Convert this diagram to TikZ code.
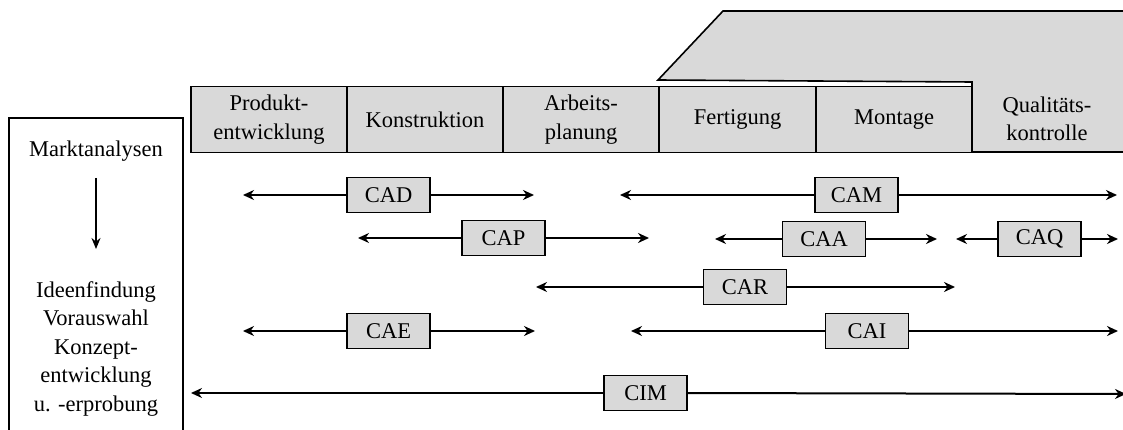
\documentclass[tikz,border=0pt]{standalone}
\usepackage{fontspec}
\setmainfont{Liberation Serif}
\usetikzlibrary{arrows.meta}
\definecolor{boxgray}{HTML}{D9D9D9}
\begin{document}
\begin{tikzpicture}[x=1pt,y=-1pt,
  every node/.style={font=\fontsize{22.5}{28.5}\selectfont},
  phase/.style={draw,line width=1.6pt,fill=boxgray,minimum width=156pt,minimum height=66pt,inner sep=0pt,align=center},
  tool/.style={draw,line width=1.8pt,fill=boxgray,minimum width=83pt,minimum height=35pt,inner sep=0pt},
  span/.style={line width=2pt,-{Stealth[length=11pt,width=10pt]}},
  plain/.style={inner sep=0pt,align=center}]
\useasboundingbox (0,0) rectangle (1123,430);
\clip (0,0) rectangle (1123,430);

% raised block over the manufacturing phases and quality control
\draw[line width=1.6pt,fill=boxgray]
  (658,80) -- (723,11) -- (1130,11) -- (1130,152) -- (972,152) -- (972,82) -- cycle;

% phase boxes
\node[phase] (pe) at (269,119.5) {Produkt-\\entwicklung};
\node[phase] (ko) at (425,119.5) {Konstruktion};
\node[phase] (ap) at (581,119.5) {Arbeits-\\planung};
\node[phase] (fe) at (737.5,119.5) {Fertigung};
\node[phase] (mo) at (894,119.5) {Montage};
\node[plain] (qk) at (1047,119) {Qualitäts-\\kontrolle};

% left column
\draw[line width=1.4pt] (9,440) -- (9,118) -- (183,118) -- (183,440);
\node[plain] (ma) at (96,151) {Marktanalysen};
\node[plain] (id) at (96,349) {Ideenfindung\\Vorauswahl\\Konzept-\\entwicklung\\u. -erprobung};
\draw[line width=2pt,-{Stealth[length=11pt,width=9pt]}] (96,178) -- (96,249);

% CA tools with their reach
\node[tool] (cad) at (388.5,195) {CAD};
\coordinate (cadL) at (243,195); \coordinate (cadR) at (534,195);
\node[tool] (cam) at (856.5,195) {CAM};
\coordinate (camL) at (620,195); \coordinate (camR) at (1117,195);

\node[tool] (cap) at (503.5,238) {CAP};
\coordinate (capL) at (358,238); \coordinate (capR) at (649,238);
\node[tool] (caa) at (824,239) {CAA};
\coordinate (caaL) at (715,239); \coordinate (caaR) at (937,239);
\node[tool] (caq) at (1039.5,239) {CAQ};
\coordinate (caqL) at (956,239); \coordinate (caqR) at (1118,239);

\node[tool] (car) at (745,287) {CAR};
\coordinate (carL) at (536,287); \coordinate (carR) at (955,287);

\node[tool] (cae) at (388.5,331) {CAE};
\coordinate (caeL) at (243,331); \coordinate (caeR) at (535,331);
\node[tool] (cai) at (867,331) {CAI};
\coordinate (caiL) at (631,331); \coordinate (caiR) at (1118,331);

\node[tool] (cim) at (645.5,393) {CIM};
\coordinate (cimL) at (191,393); \coordinate (cimR) at (1126,394);

\foreach \t in {cad,cam,cap,caa,caq,car,cae,cai,cim}{
  \draw[span] (\t.west) -- (\t L);
  \draw[span] (\t.east) -- (\t R);
}
\end{tikzpicture}
\end{document}
